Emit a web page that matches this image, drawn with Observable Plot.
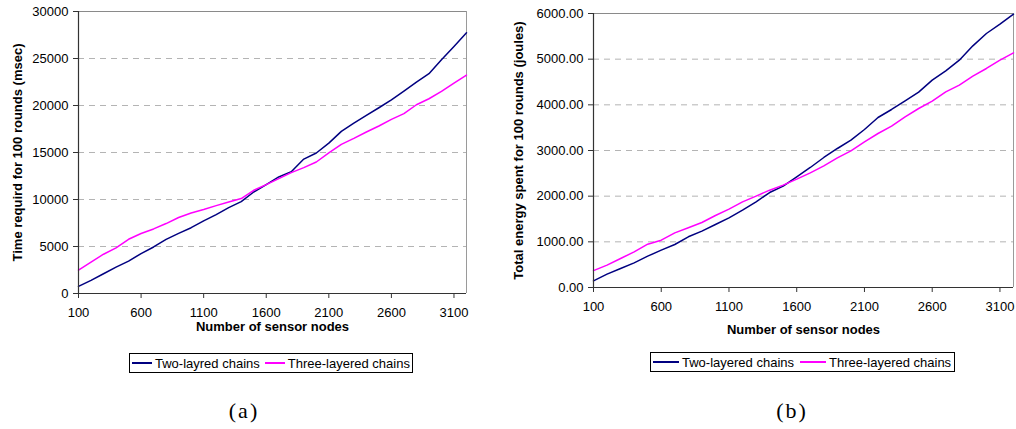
<!DOCTYPE html>
<html>
<head>
<meta charset="utf-8">
<script src="https://cdn.jsdelivr.net/npm/d3@7"></script>
<script src="https://cdn.jsdelivr.net/npm/@observablehq/plot@0.6"></script>
<style>
  html, body { margin: 0; padding: 0; background: #fff; }
  #wrap { position: relative; width: 1016px; height: 429px; overflow: hidden; font-family: "Liberation Sans", Arial, sans-serif; }
  .panel { position: absolute; top: 0; }
  .legend { position: absolute; box-sizing: border-box; border: 1px solid #000; height: 20px; display: flex; align-items: center; font-size: 13px; color: #000; white-space: nowrap; }
  .sw { display: inline-block; height: 2px; }
  .cap { position: absolute; font-family: "Liberation Serif", "Times New Roman", serif; font-size: 22px; letter-spacing: 2px; transform: translate(-50%, -50%); color: #000; }
</style>
</head>
<body>
<div id="wrap">
  <div id="a" class="panel" style="left:0px"></div>
  <div id="b" class="panel" style="left:500px"></div>
</div>
<script>
// ---- data ----
const nodes = [100,200,300,400,500,600,700,800,900,1000,1100,1200,1300,1400,1500,1600,
               1700,1800,1900,2000,2100,2200,2300,2400,2500,2600,2700,2800,2900,3000,3100,3200];
const xTicks = [100,600,1100,1600,2100,2600,3100];

const timeTwo   = [750,1400,2100,2800,3450,4250,4950,5750,6400,7000,7720,8390,9140,9780,10800,11580,
                   12400,12960,14300,14950,16000,17250,18130,18950,19760,20600,21530,22490,23380,24870,26280,27730];
const timeThree = [2480,3330,4180,4850,5770,6380,6870,7440,8080,8570,8930,9350,9740,10100,10980,11580,
                   12220,12860,13390,13990,14950,15870,16500,17180,17820,18520,19130,20080,20720,21500,22390,23240];
const timeTicks = [0,5000,10000,15000,20000,25000,30000];

const energyTwo   = [146,292,416,540,686,818,942,1110,1234,1380,1525,1693,1876,2080,2219,2423,
                     2628,2847,3044,3226,3460,3723,3898,4088,4277,4540,4744,4978,5292,5562,5766,5985];
const energyThree = [370,489,635,781,949,1036,1197,1307,1423,1577,1715,1876,2000,2131,2241,2372,
                     2511,2664,2839,2993,3190,3372,3533,3737,3920,4080,4285,4431,4628,4796,4978,5139];
const energyTicks = [0,1000,2000,3000,4000,5000,6000];

const seriesNames = ["Two-layered chains", "Three-layered chains"];
const legendNamesA = ["Two-layred chains", "Three-layered chains"];
const seriesColors = ["#000080", "#ff00ff"];
const xLabel = "Number of sensor nodes";
const yLabelA = "Time requird for 100 rounds (msec)";
const yLabelB = "Total energy spent for 100 rounds (joules)";
const captions = ["(a)", "(b)"];

const FONT = "'Liberation Sans', Arial, Helvetica, sans-serif";

function chart(o) {
  const yMax = o.yTicks[o.yTicks.length - 1];
  return Plot.plot({
    width: o.width, height: 345,
    marginLeft: o.ml, marginRight: o.mr, marginTop: o.mt, marginBottom: o.mb,
    style: {fontSize: "13px", fontFamily: FONT, color: "#000", background: "transparent", overflow: "visible"},
    x: {domain: [100, 3200]},
    y: {domain: [0, yMax]},
    marks: [
      Plot.ruleY(o.yTicks.filter(t => t > 0 && t < yMax), {stroke: "#b4b4b4", strokeDasharray: "6,5", strokeWidth: 1}),
      Plot.ruleY([yMax], {stroke: "#8a8a8a", strokeWidth: 1}),
      Plot.ruleX([3200], {stroke: "#9a9a9a", strokeWidth: 1}),
      Plot.line(nodes, {x: nodes, y: o.two, stroke: seriesColors[0], strokeWidth: 1.5}),
      Plot.line(nodes, {x: nodes, y: o.three, stroke: seriesColors[1], strokeWidth: 1.5}),
      Plot.ruleX([100], {stroke: "#333", strokeWidth: 1.2}),
      Plot.ruleY([0], {stroke: "#333", strokeWidth: 1.2}),
      Plot.axisY({ticks: o.yTicks, tickSize: 5, tickPadding: 5, tickFormat: o.yFmt, label: null, stroke: "#333"}),
      Plot.axisX({ticks: xTicks, tickSize: 5, tickPadding: 9, tickFormat: d => String(d), label: null, stroke: "#333"}),
      Plot.text([o.ylabel], {text: d => d, frameAnchor: "left", textAnchor: "middle", lineAnchor: "middle", dx: o.ylDx, rotate: -90, fontWeight: "bold", fontSize: 13}),
      Plot.text([xLabel], {text: d => d, frameAnchor: "bottom", textAnchor: "middle", lineAnchor: "middle", dy: o.xlDy, fontWeight: "bold", fontSize: 13})
    ]
  });
}

document.getElementById("a").append(chart({
  width: 500, ml: 78, mr: 34, mt: 11, mb: 52,
  yTicks: timeTicks, yFmt: d => String(d), two: timeTwo, three: timeThree,
  ylabel: yLabelA, ylDx: -61, xlDy: 33
}));
document.getElementById("b").append(chart({
  width: 516, ml: 93, mr: 3, mt: 13, mb: 58,
  yTicks: energyTicks, yFmt: d => d.toFixed(2), two: energyTwo, three: energyThree,
  ylabel: yLabelB, ylDx: -75, xlDy: 42
}));

// legends
function legend(left, top, width, names, spec) {
  const div = document.createElement("div");
  div.className = "legend";
  div.style.left = left + "px"; div.style.top = top + "px"; div.style.width = width + "px";
  names.forEach((name, i) => {
    const sw = document.createElement("span");
    sw.className = "sw";
    sw.style.background = seriesColors[i];
    sw.style.width = spec.sw + "px";
    sw.style.marginLeft = spec.swGap[i] + "px";
    const t = document.createElement("span");
    t.textContent = name;
    t.style.marginLeft = spec.txGap + "px";
    div.append(sw, t);
  });
  document.getElementById("wrap").append(div);
}
legend(129, 353, 284, legendNamesA, {sw: 20, swGap: [2, 5], txGap: 3});
legend(650, 352, 305, seriesNames, {sw: 26, swGap: [2, 6], txGap: 3});

// captions
[[244, 411], [792, 411]].forEach(([x, y], i) => {
  const c = document.createElement("div");
  c.className = "cap";
  c.style.left = x + "px"; c.style.top = y + "px";
  c.textContent = captions[i];
  document.getElementById("wrap").append(c);
});
</script>
</body>
</html>
